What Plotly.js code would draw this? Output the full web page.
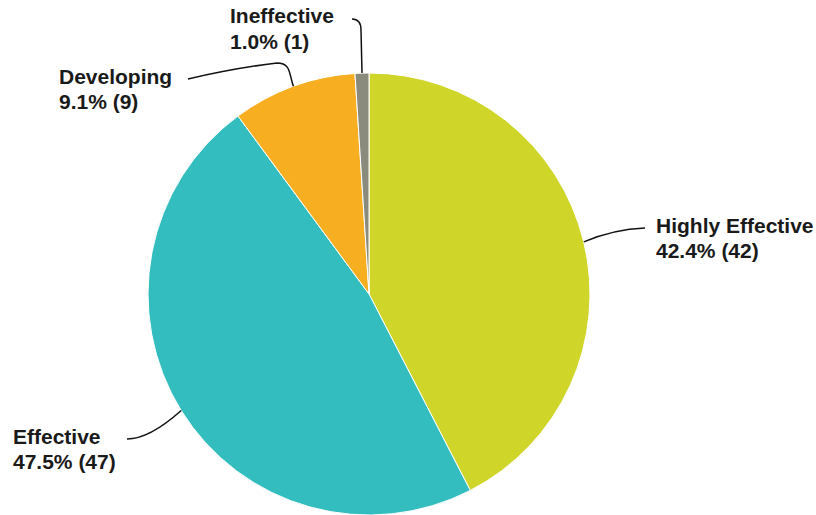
<!DOCTYPE html>
<html>
<head>
<meta charset="utf-8">
<script src="https://cdn.plot.ly/plotly-3.0.1.min.js"></script>
<style>
  html, body { margin: 0; padding: 0; background: #ffffff; }
  #chart { width: 816px; height: 515px; }
</style>
</head>
<body>
<div id="chart"></div>
<script>
// Rating distribution
const categories = ['Highly Effective', 'Effective', 'Developing', 'Ineffective'];
const counts = [42, 47, 9, 1];
const sliceColors = ['#cfd629', '#33bdbe', '#f7af21', '#8a8b7d'];

// Figure geometry (pixels)
const W = 816, H = 515;
const CX = 369, R = 221;
const CY = H - R;
const LINE_GAP = 25;

// Label placement (pixels): text left edge, first-line middle, and the leader route
const labelLayout = [
  { x: 654, y: 225, route: `C 600 235 620 229 645 228` },
  { x: 11,  y: 436.5, route: `C 165 425 145 439 127 439` },
  { x: 57,  y: 76,  route: `C 289 74 291 63 277 63 Q 235 68 188 79` },
  { x: 228, y: 16,  route: `L 361 30 Q 361 19 352 19` }
];

const total = counts.reduce((a, b) => a + b, 0);
const px = (x) => x / W;
const py = (y) => 1 - y / H;

const labelFont = { family: 'Liberation Sans, Arial, sans-serif', size: 21, color: '#1a1a1a' };
const annotations = [];
const shapes = [];
let acc = 0;
counts.forEach((v, i) => {
  const mid = (acc + v / 2) / total * 2 * Math.PI; // clockwise from 12 o'clock
  acc += v;
  const sx = CX + R * Math.sin(mid);
  const sy = CY - R * Math.cos(mid);
  const pct = (v / total * 100).toFixed(1);
  const L = labelLayout[i];
  [`<b>${categories[i]}</b>`, `<b>${pct}% (${v})</b>`].forEach((line, k) => {
    annotations.push({
      xref: 'paper', yref: 'paper',
      x: px(L.x), y: py(L.y + k * LINE_GAP),
      xanchor: 'left', yanchor: 'middle', align: 'left',
      showarrow: false,
      text: line,
      font: labelFont
    });
  });
  // leader path, converted from pixels to paper fractions
  const route = `M ${sx.toFixed(1)} ${sy.toFixed(1)} ` + L.route;
  const tokens = route.split(' ');
  let out = [], isX = true;
  tokens.forEach(t => {
    if (/^[A-Za-z]$/.test(t)) { out.push(t); isX = true; }
    else {
      const n = parseFloat(t);
      out.push((isX ? px(n) : py(n)).toFixed(5));
      isX = !isX;
    }
  });
  shapes.push({
    type: 'path', xref: 'paper', yref: 'paper',
    path: out.join(' '),
    line: { color: '#111111', width: 1.5 }
  });
});

const trace = {
  type: 'pie',
  labels: categories,
  values: counts,
  sort: false,
  direction: 'clockwise',
  rotation: 0,
  textinfo: 'none',
  hoverinfo: 'label+value+percent',
  marker: { colors: sliceColors, line: { color: '#ffffff', width: 1 } },
  domain: { x: [(CX - R) / W, (CX + R) / W], y: [0, (2 * R) / H] }
};

const layout = {
  width: W, height: H,
  margin: { l: 0, r: 0, t: 0, b: 0 },
  showlegend: false,
  paper_bgcolor: '#ffffff',
  annotations: annotations,
  shapes: shapes
};

Plotly.newPlot('chart', [trace], layout, { displayModeBar: false, staticPlot: true });
</script>
</body>
</html>
